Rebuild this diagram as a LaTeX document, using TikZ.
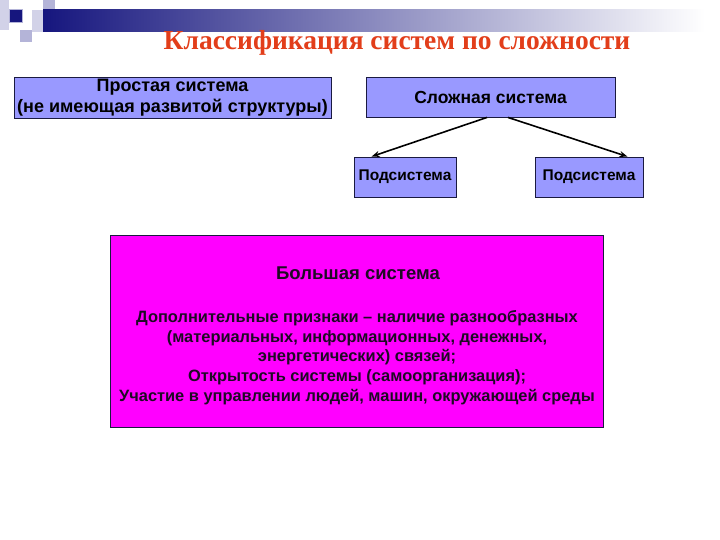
\documentclass[tikz,border=0pt]{standalone}
\usepackage{fontspec}
\setmainfont{Liberation Sans}
\newfontfamily\headfont{Liberation Serif}
\usepackage{tikz}
\usetikzlibrary{calc,arrows.meta}
\definecolor{navy}{HTML}{16167E}
\definecolor{pale}{HTML}{B4B4D8}
\definecolor{paler}{HTML}{D2D2E8}
\definecolor{lilac}{HTML}{9999FF}
\definecolor{bigfill}{HTML}{FF00FF}
\definecolor{edge}{HTML}{1A1A40}
\definecolor{headred}{HTML}{E23E1A}
\definecolor{ink}{HTML}{1E0A24}
\tikzset{
  box/.style={draw=edge, line width=0.9pt, fill=lilac, inner sep=0pt, align=center,
    text=black, font=\bfseries\fontsize{17.5bp}{20.5bp}\selectfont},
  subbox/.style={box, font=\bfseries\fontsize{15.5bp}{18bp}\selectfont},
  bigbox/.style={draw=edge, line width=0.9pt, fill=bigfill, inner sep=0pt},
  bigtxt/.style={text=ink, align=center, font=\bfseries\fontsize{16.4bp}{19.6bp}\selectfont},
  arr/.style={-{Stealth[length=8bp,width=6bp]}, line width=1.6pt}
}

\begin{document}
\begin{tikzpicture}[x=1bp,y=-1bp]
\useasboundingbox (0,0) rectangle (720,540);
% corner squares and header bar
\fill[paler] (0,0) rectangle (9,30);
\fill[pale] (43,0) rectangle (55,10);
\fill[pale] (20,30) rectangle (32,42);
\fill[paler] (32,10) rectangle (43,32);
\shade[left color=navy, right color=white] (43,10) rectangle (705,32);
\fill[navy] (9,9) rectangle (22,22);
\draw[pale, line width=0.8pt] (9,9) rectangle (22,22);

\node[text=headred, font=\headfont\bfseries\fontsize{27.5bp}{30bp}\selectfont] (head) at (397,43)
  {Классификация систем по сложности};

% top row
\node[box, font=\bfseries\fontsize{18bp}{21bp}\selectfont, minimum width=317bp, minimum height=41bp] (simple) at (172.5,97.5)
  {Простая система\\(не имеющая развитой структуры)};
\node[box, minimum width=249bp, minimum height=40bp] (complex) at (490.5,97)
  {Сложная система};
\node[subbox, minimum width=102bp, minimum height=40bp] (sub1) at (405,177) {Подсистема};
\node[subbox, minimum width=108bp, minimum height=40bp] (sub2) at (589,177) {Подсистема};

\draw[arr] ([xshift=-3.5bp]complex.south) -- ([xshift=18bp]sub1.north west);
\draw[arr] ([xshift=17.5bp]complex.south) -- ([xshift=-16bp]sub2.north east);

% large system
\node[bigbox, minimum width=493bp, minimum height=192bp] (big) at (356.5,331) {};
\node[bigtxt, font=\bfseries\fontsize{18.5bp}{20bp}\selectfont] (bigname) at (358,273) {Большая система};
\node[bigtxt] (bigtext) at (357,357.5)
  {Дополнительные признаки – наличие разнообразных\\
   (материальных, информационных, денежных,\\
   энергетических) связей;\\
   Открытость системы (самоорганизация);\\
   Участие в управлении людей, машин, окружающей среды};
\end{tikzpicture}
\end{document}
